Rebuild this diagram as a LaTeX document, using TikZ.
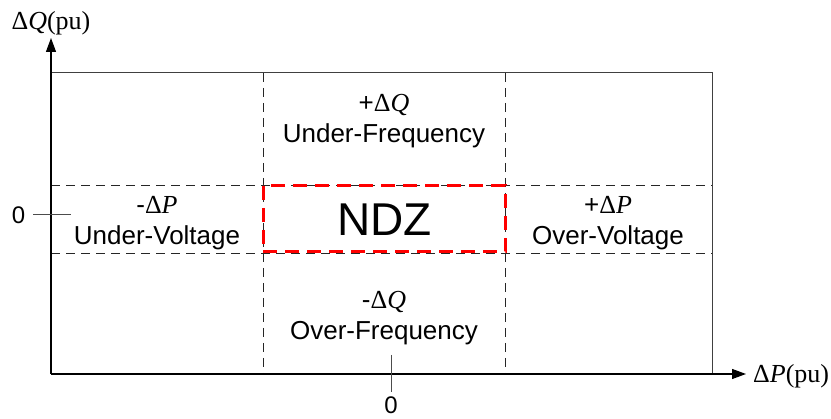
\documentclass[tikz,border=0pt]{standalone}
\usepackage{fontspec}
\setmainfont{Liberation Sans}
\newfontfamily\tms{Liberation Serif}
\usetikzlibrary{arrows.meta}
\begin{document}
\begin{tikzpicture}[x=1pt,y=-1pt,
  lbl/.style={font=\fontsize{26}{30}\selectfont, inner sep=0pt, anchor=base},
  zero/.style={font=\fontsize{24}{28}\selectfont, inner sep=0pt, anchor=base},
  gridline/.style={draw=black!85, line width=0.9pt, dash pattern=on 9pt off 6pt},
  axis/.style={draw=black, line width=1.2pt, -{Triangle[length=14pt,width=10pt]}},
  ndzbox/.style={draw=red, line width=3pt, dash pattern=on 14pt off 8pt},
  tick/.style={draw=black!70, line width=1pt},
]
\useasboundingbox (0,0) rectangle (831,419);
% frame
\coordinate (O) at (51,374);
\coordinate (TL) at (51,73);
\coordinate (BR) at (712,374);
\draw[draw=black!75, line width=1pt] (TL) rectangle (BR);
% grid
\coordinate (v1t) at (263,73);  \coordinate (v1b) at (263,374);
\coordinate (v2t) at (505,73);  \coordinate (v2b) at (505,374);
\coordinate (h1l) at (51,185);  \coordinate (h1r) at (712,185);
\coordinate (h2l) at (51,253);  \coordinate (h2r) at (712,253);
\draw[gridline] (v1t) -- (v1b);
\draw[gridline] (v2t) -- (v2b);
\draw[gridline] (h1l) -- (h1r);
\draw[gridline] (h2l) -- (h2r);
% NDZ box
\coordinate (n1) at (263,186);
\coordinate (n2) at (505,252);
\draw[ndzbox] (n1) rectangle (n2);
\node[font=\fontsize{46}{50}\selectfont, inner sep=0pt, anchor=base] (ndz) at (384.5,236) {NDZ};
% axes
\coordinate (Ytop) at (51,38);
\coordinate (Xend) at (746,374);
\draw[axis] (O) -- (Ytop);
\draw[axis] (O) -- (Xend);
\node[lbl] (qlab) at (51,30) {{\tms Δ\textit{Q}(pu)}};
\node[lbl, anchor=base west] (plab) at (753,383) {{\tms Δ\textit{P}(pu)}};
% ticks
\coordinate (lt1) at (33,215); \coordinate (lt2) at (71,215);
\draw[tick] (lt1) -- (lt2);
\node[zero] (zl) at (18.5,224) {0};
\coordinate (bt1) at (391,355); \coordinate (bt2) at (391,392);
\draw[tick] (bt1) -- (bt2);
\node[zero] (zb) at (391,414) {0};
% region labels
\node[lbl] (tq) at (384,112) {+{\tms Δ\textit{Q}}};
\node[lbl] (tf) at (384,143) {Under-Frequency};
\node[lbl] (lp) at (157,214) {-{\tms Δ\textit{P}}};
\node[lbl] (lv) at (157,245) {Under-Voltage};
\node[lbl] (rp) at (608,214) {+{\tms Δ\textit{P}}};
\node[lbl] (rv) at (608,245) {Over-Voltage};
\node[lbl] (bq) at (384,309) {-{\tms Δ\textit{Q}}};
\node[lbl] (bf) at (384,340) {Over-Frequency};
\end{tikzpicture}
\end{document}
